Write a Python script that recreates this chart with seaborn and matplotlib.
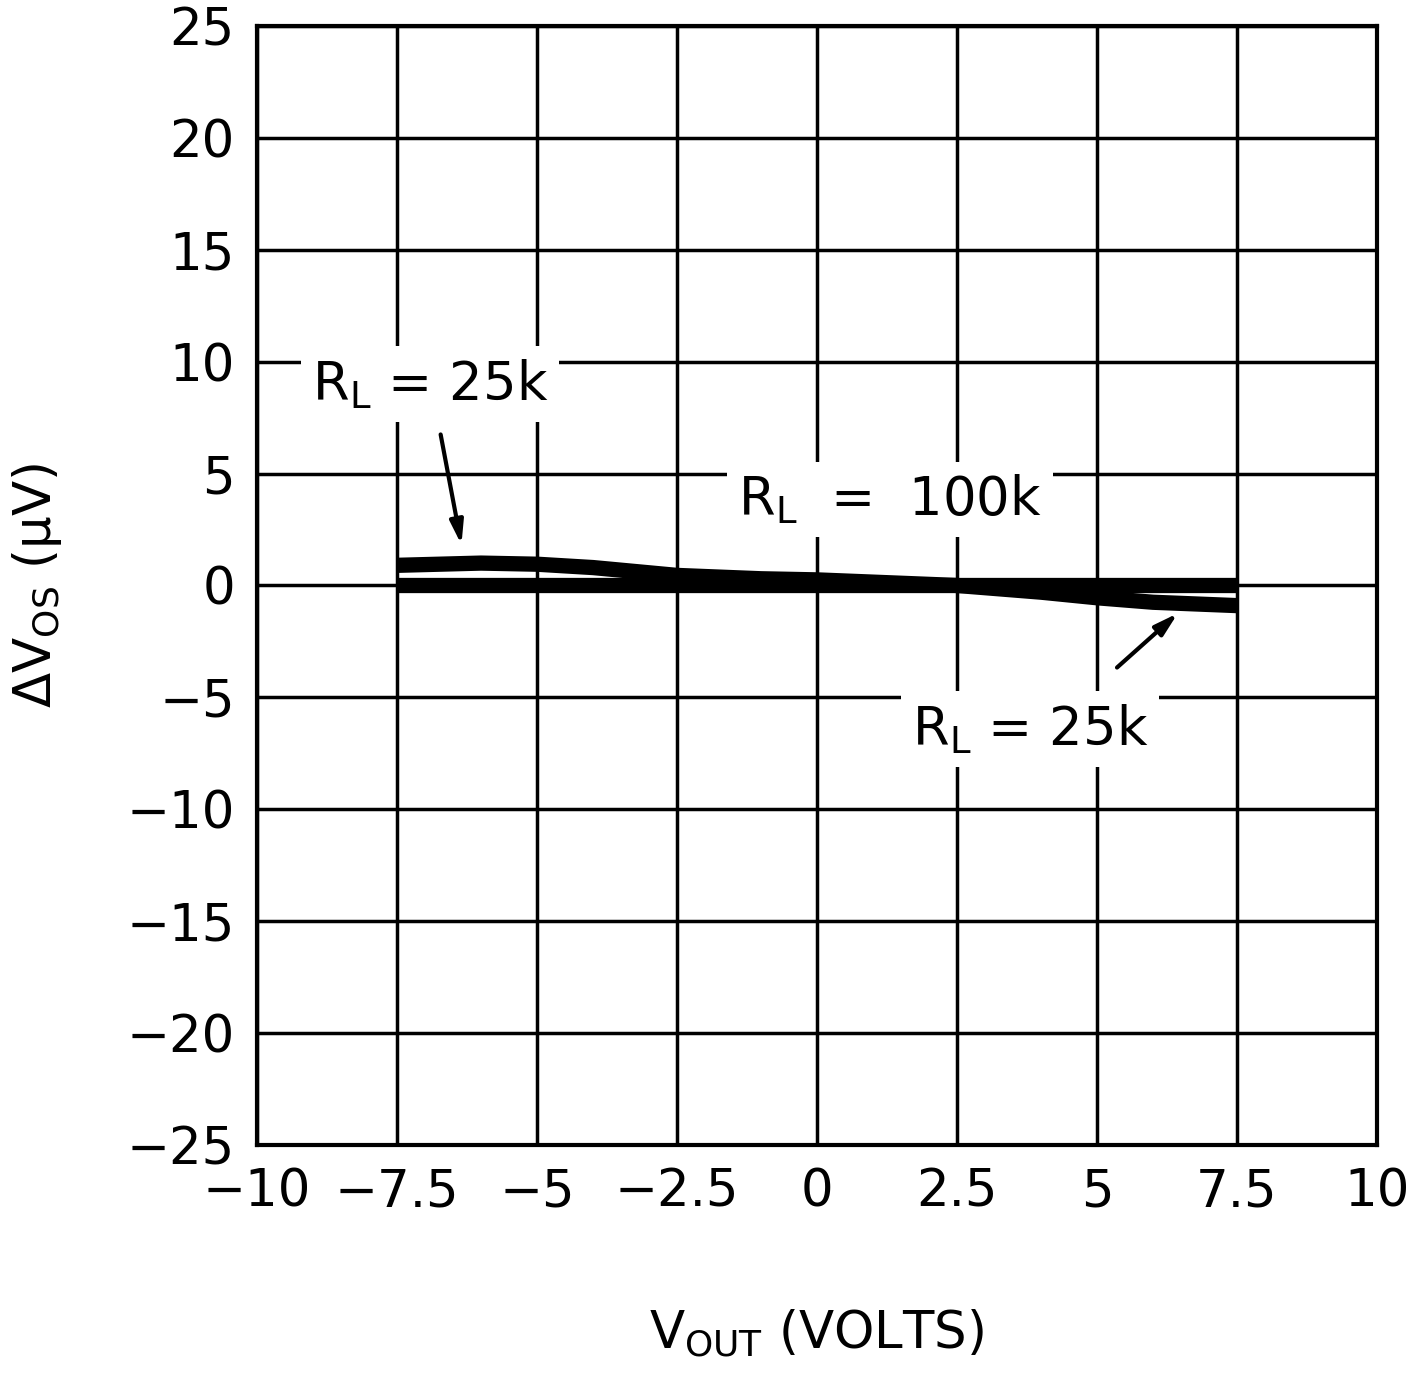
import matplotlib
matplotlib.use("Agg")
import matplotlib.pyplot as plt
import seaborn as sns
import pandas as pd

sns.set_style("white")
plt.rcParams['font.family'] = ['DejaVu Sans']
plt.rcParams['mathtext.default'] = 'regular'
plt.rcParams['text.color'] = 'black'
plt.rcParams['axes.labelcolor'] = 'black'
plt.rcParams['xtick.color'] = 'black'
plt.rcParams['ytick.color'] = 'black'

vout = [-7.5, -6, -5, -4, -2.5, -1, 0, 1, 2.5, 4, 5, 6, 7.5]
dvos_100k = [0.0, 0.0, 0.0, 0.0, 0.0, 0.0, 0.0, 0.0, 0.0, 0.0, 0.0, 0.0, 0.0]
dvos_25k = [0.9, 1.0, 0.95, 0.8, 0.45, 0.3, 0.25, 0.15, 0.0, -0.3, -0.55, -0.75, -0.9]
xticks = [-10, -7.5, -5, -2.5, 0, 2.5, 5, 7.5, 10]
xticklabels = ["\u221210", "\u22127.5", "\u22125", "\u22122.5", "0", "2.5", "5", "7.5", "10"]
yticks = [-25, -20, -15, -10, -5, 0, 5, 10, 15, 20, 25]
yticklabels = ["\u221225", "\u221220", "\u221215", "\u221210", "\u22125", "0", "5", "10", "15", "20", "25"]

df = pd.concat([
    pd.DataFrame({"x": vout, "y": dvos_100k, "s": "100k"}),
    pd.DataFrame({"x": vout, "y": dvos_25k, "s": "25k"}),
])

fig = plt.figure(figsize=(14.09, 13.9), dpi=100)
ax = fig.add_axes([0.1824, 0.1763, 0.7949, 0.805])
sns.lineplot(data=df, x="x", y="y", units="s", estimator=None, color="black",
             linewidth=11, ax=ax, legend=False, zorder=3, solid_capstyle="butt")
ax.set_xlim(-10, 10)
ax.set_ylim(-25, 25)
ax.set_xticks(xticks)
ax.set_xticklabels(xticklabels)
ax.set_yticks(yticks)
ax.set_yticklabels(yticklabels)
ax.grid(True, color="black", linewidth=2.5)
for s in ax.spines.values():
    s.set_color("black"); s.set_linewidth(3)
ax.tick_params(labelsize=37, length=0, pad=16)
ax.set_xlabel(r"$V_{OUT}$ (VOLTS)", fontsize=37, labelpad=65)
ax.set_ylabel(r"$\Delta V_{OS}$ ($\mu$V)", fontsize=37, labelpad=45)

bb = dict(facecolor="white", edgecolor="none", pad=8)
ax.text(-6.91, 9.0, r"$R_L$ = 25k", fontsize=38, ha="center", va="center", bbox=bb, zorder=5)
ax.text(1.3, 3.84, r"$R_L$  =  100k", fontsize=38, ha="center", va="center", bbox=bb, zorder=5)
ax.text(3.8, -6.43, r"$R_L$ = 25k", fontsize=38, ha="center", va="center", bbox=bb, zorder=5)
ap = dict(arrowstyle="-|>,head_length=1.4,head_width=0.4", color="black", lw=3)
ax.annotate("", xy=(-6.34, 1.7), xytext=(-6.73, 6.87), arrowprops=ap, zorder=6)
ax.annotate("", xy=(6.48, -1.16), xytext=(5.32, -3.75), arrowprops=ap, zorder=6)

fig.savefig("out.png", dpi=100, facecolor="white")
